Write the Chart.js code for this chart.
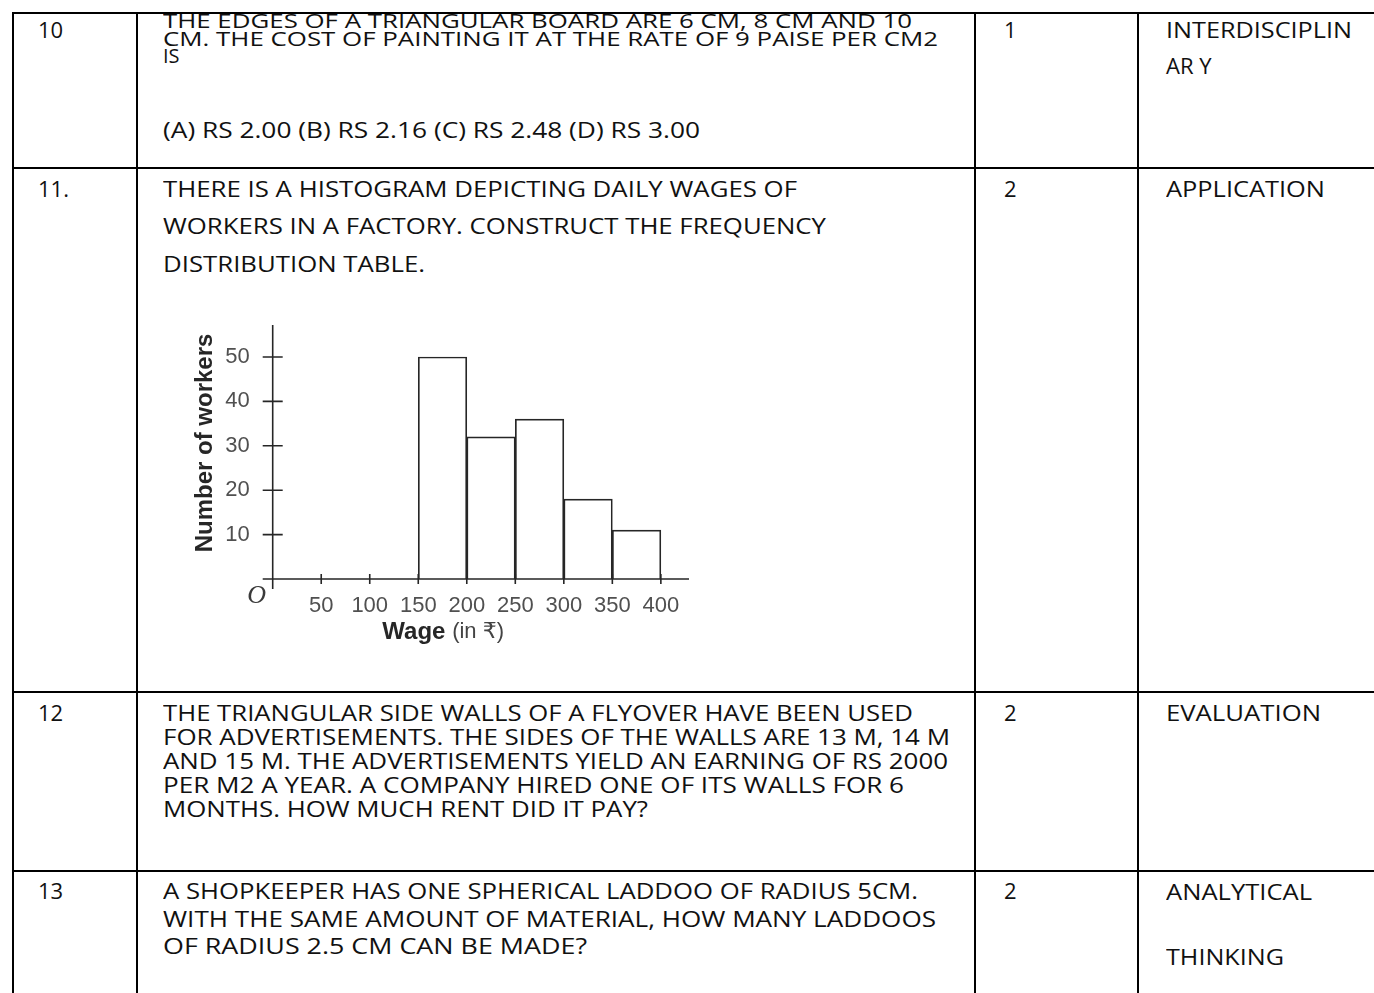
<!DOCTYPE html>
<html>
<head>
<meta charset="utf-8">
<script src="https://cdn.jsdelivr.net/npm/chart.js@4.4.0/dist/chart.umd.min.js"></script>
<style>
  html, body { margin: 0; padding: 0; background: #fff; }
  body { width: 1374px; height: 993px; position: relative; overflow: hidden; }
  .ln { position: absolute; background: #000; }
  .tx { position: absolute; white-space: nowrap; font-family: "Open Sans", "Noto Sans", sans-serif;
        font-size: 22px; line-height: 22px; color: #111; transform-origin: 0 0; }
  #histo { position: absolute; left: 180px; top: 310px; width: 530px; height: 350px; }
</style>
</head>
<body>
<div id="histo"><canvas id="myChart"></canvas></div>
<script>
// histogram data
const wageClasses = ['150-200', '200-250', '250-300', '300-350', '350-400'];
const classMids = [175, 225, 275, 325, 375];
const workers = [50, 32, 36, 18, 11];
const xTickValues = [50, 100, 150, 200, 250, 300, 350, 400];
const yTickValues = [10, 20, 30, 40, 50];

// table text: [text, left, capCentreY, width, fontSize]
const textLines = [
  ['10', 38, 30], ['THE EDGES OF A TRIANGULAR BOARD ARE 6 CM, 8 CM AND 10', 163, 21.5, 749, 20],
  ['CM. THE COST OF PAINTING IT AT THE RATE OF 9 PAISE PER CM2', 163, 39.5, 775, 20],
  ['IS', 163, 56.5, 0, 20], ['(A) RS 2.00 (B) RS 2.16 (C) RS 2.48 (D) RS 3.00', 163, 130, 537],
  ['1', 1004, 30], ['INTERDISCIPLIN', 1166, 30, 186], ['AR Y', 1166, 66],
  ['11.', 38, 189], ['THERE IS A HISTOGRAM DEPICTING DAILY WAGES OF', 163, 189, 634],
  ['WORKERS IN A FACTORY. CONSTRUCT THE FREQUENCY', 163, 226, 663],
  ['DISTRIBUTION TABLE.', 163, 264, 262],
  ['2', 1004, 189], ['APPLICATION', 1166, 189, 159],
  ['12', 38, 713], ['THE TRIANGULAR SIDE WALLS OF A FLYOVER HAVE BEEN USED', 163, 713, 750],
  ['FOR ADVERTISEMENTS. THE SIDES OF THE WALLS ARE 13 M, 14 M', 163, 737, 787],
  ['AND 15 M. THE ADVERTISEMENTS YIELD AN EARNING OF RS 2000', 163, 761, 785],
  ['PER M2 A YEAR. A COMPANY HIRED ONE OF ITS WALLS FOR 6', 163, 785, 741],
  ['MONTHS. HOW MUCH RENT DID IT PAY?', 163, 809, 485],
  ['2', 1004, 713], ['EVALUATION', 1166, 713, 155],
  ['13', 38, 891], ['A SHOPKEEPER HAS ONE SPHERICAL LADDOO OF RADIUS 5CM.', 163, 891, 755],
  ['WITH THE SAME AMOUNT OF MATERIAL, HOW MANY LADDOOS', 163, 919, 773],
  ['OF RADIUS 2.5 CM CAN BE MADE?', 163, 946, 424],
  ['2', 1004, 891], ['ANALYTICAL', 1166, 892, 146], ['THINKING', 1166, 957, 118]
];

// table rules: [left, top, width, height]
const rules = [
  [12, 12, 1362, 2], [12, 167, 1362, 2], [12, 691, 1362, 2], [12, 870, 1362, 2],
  [12, 12, 2, 981], [136, 12, 2, 981], [974, 12, 2, 981], [1137, 12, 2, 981]
];

rules.forEach(r => {
  const d = document.createElement('div');
  d.className = 'ln';
  d.style.left = r[0] + 'px'; d.style.top = r[1] + 'px';
  d.style.width = r[2] + 'px'; d.style.height = r[3] + 'px';
  document.body.appendChild(d);
});

textLines.forEach(t => {
  const fs = t[4] || 22;
  const d = document.createElement('div');
  d.className = 'tx';
  d.textContent = t[0];
  d.style.fontSize = fs + 'px';
  d.style.lineHeight = fs + 'px';
  d.style.left = t[1] + 'px';
  d.style.top = (t[2] - 0.531 * fs) + 'px';
  document.body.appendChild(d);
  if (t[3]) {
    const w = d.getBoundingClientRect().width;
    d.style.transform = 'scaleX(' + (t[3] / w) + ')';
  }
});

const ink = '#262626';
const tickFont = { family: '"Liberation Sans", "DejaVu Sans", sans-serif', size: 22 };

const decor = {
  id: 'decor',
  afterDraw(chart) {
    const c = chart.ctx, x = chart.scales.x, y = chart.scales.y;
    const x0 = x.getPixelForValue(0), y0 = y.getPixelForValue(0);
    c.save();
    c.strokeStyle = ink;
    c.lineWidth = 1.6;
    c.beginPath();
    c.moveTo(x0, y.top); c.lineTo(x0, y0 + 10);
    c.moveTo(x0 - 10, y0); c.lineTo(x.right, y0);
    yTickValues.forEach(v => {
      const p = y.getPixelForValue(v);
      c.moveTo(x0 - 10, p); c.lineTo(x0 + 10, p);
    });
    xTickValues.forEach(v => {
      const p = x.getPixelForValue(v);
      c.moveTo(p, y0 - 5); c.lineTo(p, y0 + 5);
    });
    c.stroke();
    c.fillStyle = '#3a3a3a';
    c.font = 'italic 26px "Liberation Serif", serif';
    c.textAlign = 'center'; c.textBaseline = 'middle';
    c.fillText('O', x0 - 16, y0 + 17);
    // x title: bold + normal part
    c.fillStyle = ink;
    c.textAlign = 'left';
    const boldF = 'bold 24px "Liberation Sans", sans-serif';
    const normF = '22px "Liberation Sans", "DejaVu Sans", sans-serif';
    c.font = boldF; const w1 = c.measureText('Wage ').width;
    const sx = x.getPixelForValue(113);
    c.fillText('Wage ', sx, y0 + 53);
    c.font = normF; c.fillStyle = '#444'; c.fillText('(in ₹)', sx + w1, y0 + 53);
    // y title
    c.translate(x0 - 67, (y.top + y0) / 2 - 9);
    c.rotate(-Math.PI / 2);
    c.textAlign = 'center';
    c.fillStyle = ink;
    c.font = 'bold 24px "Liberation Sans", sans-serif';
    c.fillText('Number of workers', 0, 0);
    c.restore();
  }
};

new Chart(document.getElementById('myChart'), {
  type: 'bar',
  data: {
    labels: wageClasses,
    datasets: [{
      label: 'Number of workers',
      data: classMids.map((m, i) => ({ x: m, y: workers[i] })),
      backgroundColor: '#ffffff',
      borderColor: ink,
      borderWidth: 1.7,
      barPercentage: 1,
      categoryPercentage: 1
    }]
  },
  options: {
    responsive: true,
    maintainAspectRatio: false,
    animation: false,
    devicePixelRatio: 1,
    layout: { padding: { top: 15, right: 21, left: 0, bottom: 0 } },
    plugins: { legend: { display: false }, tooltip: { enabled: false } },
    scales: {
      x: {
        type: 'linear', min: 0, max: 429, offset: false,
        grid: { display: false }, border: { display: false },
        afterBuildTicks: s => { s.ticks = xTickValues.map(v => ({ value: v })); },
        afterFit: s => { s.height = 81; s.paddingLeft = 0; s.paddingRight = 0; },
        ticks: { font: tickFont, color: '#505050', padding: 6, maxRotation: 0, autoSkip: false }
      },
      y: {
        min: 0, max: 57.2,
        grid: { display: false }, border: { display: false },
        afterBuildTicks: s => { s.ticks = yTickValues.map(v => ({ value: v })); },
        afterFit: s => { s.width = 92.7; s.paddingTop = 0; s.paddingBottom = 0; },
        ticks: { font: tickFont, color: '#505050', padding: 15 }
      }
    }
  },
  plugins: [decor]
});
</script>
</body>
</html>
